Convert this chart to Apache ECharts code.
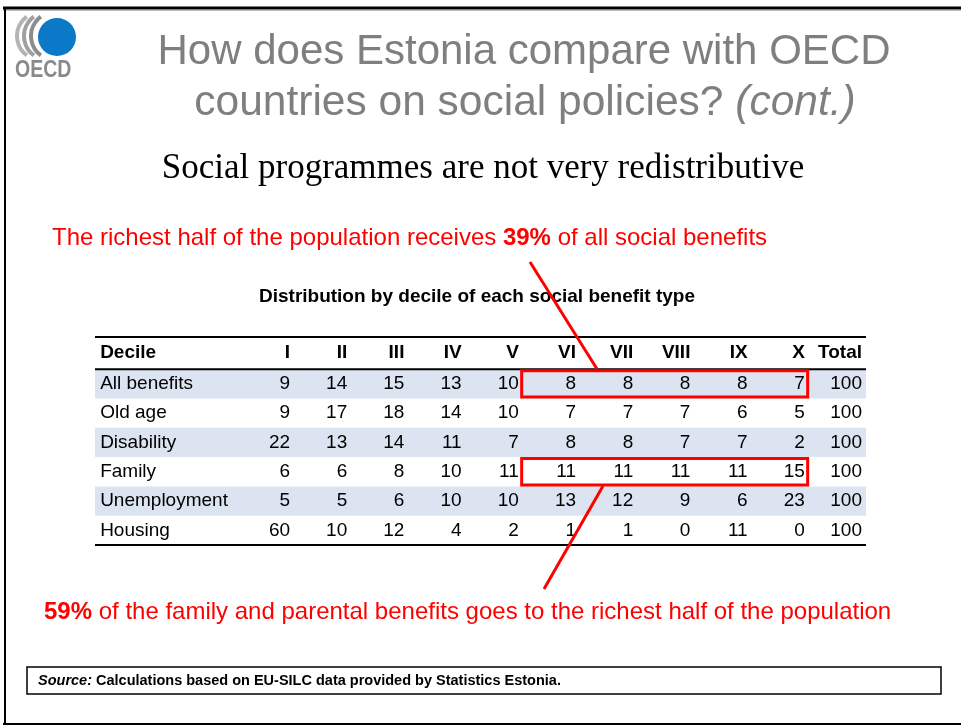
<!DOCTYPE html>
<html>
<head>
<meta charset="utf-8">
<title>Distribution by decile of each social benefit type</title>
<script src="https://cdn.jsdelivr.net/npm/echarts@6/dist/echarts.min.js"></script>
<style>
  html, body { margin: 0; padding: 0; background: #fff; }
  #chart { width: 961px; height: 726px; }
</style>
</head>
<body>
<div id="chart"></div>
<script>
// table data
const deciles = ['I', 'II', 'III', 'IV', 'V', 'VI', 'VII', 'VIII', 'IX', 'X', 'Total'];
const benefitTypes = ['All benefits', 'Old age', 'Disability', 'Family', 'Unemployment', 'Housing'];
const allBenefits = [9, 14, 15, 13, 10, 8, 8, 8, 8, 7, 100];
const oldAge = [9, 17, 18, 14, 10, 7, 7, 7, 6, 5, 100];
const disability = [22, 13, 14, 11, 7, 8, 8, 7, 7, 2, 100];
const family = [6, 6, 8, 10, 11, 11, 11, 11, 11, 15, 100];
const unemployment = [5, 5, 6, 10, 10, 13, 12, 9, 6, 23, 100];
const housing = [60, 10, 12, 4, 2, 1, 1, 0, 11, 0, 100];
const bandedRows = [0, 2, 4];
const highlightRows = [0, 3];   // rows boxed in red, deciles VI..X

const rows = [allBenefits, oldAge, disability, family, unemployment, housing];
const FONT = 'Liberation Sans, Arial, sans-serif';
const HEADER_Y = -1.05;
const colRight = i => i + 3.41;   // right edge of column i, in x axis units

// cells: [x, y, text, bold, align]
const cells = [[0.09, HEADER_Y, 'Decile', true, 'left']];
deciles.forEach((d, i) => cells.push([colRight(i), HEADER_Y, d, true, 'right']));
benefitTypes.forEach((name, r) => {
  cells.push([0.09, r, name, false, 'left']);
  rows[r].forEach((v, i) => cells.push([colRight(i), r, String(v), false, 'right']));
});

const myChart = echarts.init(document.getElementById('chart'));

const option = {
  animation: false,
  grid: { left: 95, right: 95, top: 337, bottom: 181 },
  xAxis: { type: 'value', min: 0, max: 13.48, show: false },
  yAxis: { type: 'value', min: -1.6, max: 5.5, inverse: true, show: false },
  series: [
    {
      // shaded rows
      type: 'custom',
      z: 1,
      data: bandedRows.map(r => [0, r]),
      renderItem: function (params, api) {
        const p = api.coord([0, api.value(1)]);
        const h = api.size([0, 1])[1];
        return {
          type: 'rect',
          shape: { x: params.coordSys.x, y: p[1] - h / 2, width: params.coordSys.width, height: h },
          style: { fill: '#dbe4f0' }
        };
      }
    },
    {
      // table rules: top, under header, bottom
      type: 'custom',
      z: 2,
      data: [[0, -1.6], [0, -0.5], [0, 5.5]],
      renderItem: function (params, api) {
        const p = api.coord([0, api.value(1)]);
        return {
          type: 'line',
          shape: { x1: params.coordSys.x, y1: p[1], x2: params.coordSys.x + params.coordSys.width, y2: p[1] },
          style: { stroke: '#000', lineWidth: 2 }
        };
      }
    },
    {
      // cell texts
      type: 'custom',
      z: 3,
      data: cells.map(c => [c[0], c[1]]),
      renderItem: function (params, api) {
        const c = cells[params.dataIndex];
        const p = api.coord([c[0], c[1]]);
        return {
          type: 'text',
          x: p[0],
          y: p[1],
          style: {
            text: c[2],
            fill: '#000',
            fontFamily: FONT,
            fontSize: 19,
            fontWeight: c[3] ? 'bold' : 'normal',
            align: c[4],
            verticalAlign: 'middle'
          }
        };
      }
    },
    {
      // red boxes round deciles VI..X
      type: 'custom',
      z: 4,
      data: highlightRows.map(r => [colRight(4) + 0.05, r, colRight(9) + 0.05]),
      renderItem: function (params, api) {
        const r = api.value(1);
        const a = api.coord([api.value(0), r - 0.5]);
        const b = api.coord([api.value(2), r + 0.5]);
        return {
          type: 'rect',
          shape: { x: a[0], y: a[1] + 1.5, width: b[0] - a[0], height: b[1] - a[1] - 3 },
          style: { fill: null, stroke: '#ff0000', lineWidth: 3 }
        };
      }
    }
  ],
  graphic: [
    // slide frame
    { type: 'line', shape: { x1: 3, y1: 8, x2: 961, y2: 8 }, style: { stroke: '#000', lineWidth: 3 } },
    { type: 'line', shape: { x1: 3, y1: 10.5, x2: 961, y2: 10.5 }, style: { stroke: '#bbb', lineWidth: 1 } },
    { type: 'line', shape: { x1: 5, y1: 7, x2: 5, y2: 725 }, style: { stroke: '#000', lineWidth: 2 } },
    { type: 'line', shape: { x1: 3, y1: 724, x2: 961, y2: 724 }, style: { stroke: '#000', lineWidth: 2 } },

    // OECD logo
    { type: 'arc', shape: { cx: 41, cy: 36, r: 24, startAngle: 2.2, endAngle: 4.08 }, style: { stroke: '#b4b4b4', lineWidth: 4, fill: null } },
    { type: 'arc', shape: { cx: 48, cy: 36, r: 24, startAngle: 2.2, endAngle: 4.08 }, style: { stroke: '#a0a0a0', lineWidth: 4, fill: null } },
    { type: 'arc', shape: { cx: 55, cy: 36, r: 24, startAngle: 2.2, endAngle: 4.08 }, style: { stroke: '#8c8c8c', lineWidth: 4, fill: null } },
    { type: 'circle', shape: { cx: 57, cy: 37, r: 19 }, style: { fill: '#0b78c8' } },
    {
      type: 'text', x: 15, y: 71, scaleX: 0.85,
      style: { text: 'OECD', fill: '#8a8a8a', fontFamily: FONT, fontSize: 23, fontWeight: 'bold', verticalAlign: 'middle' }
    },

    // slide title
    {
      type: 'text', x: 524, y: 52,
      style: { text: 'How does Estonia compare with OECD', fill: '#7f7f7f', fontFamily: FONT, fontSize: 42, align: 'center', verticalAlign: 'middle' }
    },
    {
      type: 'text', x: 525, y: 103,
      style: {
        text: '{n|countries on social policies? }{i|(cont.)}',
        align: 'center', verticalAlign: 'middle',
        rich: {
          n: { fill: '#7f7f7f', fontFamily: FONT, fontSize: 42.5 },
          i: { fill: '#7f7f7f', fontFamily: FONT, fontSize: 42.5, fontStyle: 'italic' }
        }
      }
    },
    {
      type: 'text', x: 483, y: 169,
      style: { text: 'Social programmes are not very redistributive', fill: '#000', fontFamily: 'Liberation Serif, Times New Roman, serif', fontSize: 35, align: 'center', verticalAlign: 'middle' }
    },

    // red annotations
    {
      type: 'text', x: 52, y: 238,
      style: {
        text: '{n|The richest half of the population receives }{b|39%}{n| of all social benefits}',
        verticalAlign: 'middle',
        rich: {
          n: { fill: '#ff0000', fontFamily: FONT, fontSize: 24 },
          b: { fill: '#ff0000', fontFamily: FONT, fontSize: 24, fontWeight: 'bold' }
        }
      }
    },
    {
      type: 'text', x: 44, y: 612,
      style: {
        text: '{b|59%}{n| of the family and parental benefits goes to the richest half of the population}',
        verticalAlign: 'middle',
        rich: {
          n: { fill: '#ff0000', fontFamily: FONT, fontSize: 24 },
          b: { fill: '#ff0000', fontFamily: FONT, fontSize: 24, fontWeight: 'bold' }
        }
      }
    },
    { type: 'line', z: 10, shape: { x1: 530, y1: 262, x2: 597, y2: 369 }, style: { stroke: '#ff0000', lineWidth: 3 } },
    { type: 'line', z: 10, shape: { x1: 603, y1: 486, x2: 544, y2: 589 }, style: { stroke: '#ff0000', lineWidth: 3 } },

    // table title
    {
      type: 'text', x: 477, y: 297,
      style: { text: 'Distribution by decile of each social benefit type', fill: '#000', fontFamily: FONT, fontSize: 19, fontWeight: 'bold', align: 'center', verticalAlign: 'middle' }
    },

    // source box
    { type: 'rect', shape: { x: 27, y: 667, width: 914, height: 27 }, style: { fill: null, stroke: '#000', lineWidth: 1.5 } },
    {
      type: 'text', x: 38, y: 681,
      style: {
        text: '{i|Source:}{n| Calculations based on EU-SILC data provided by Statistics Estonia.}',
        verticalAlign: 'middle',
        rich: {
          i: { fill: '#000', fontFamily: FONT, fontSize: 14.5, fontWeight: 'bold', fontStyle: 'italic' },
          n: { fill: '#000', fontFamily: FONT, fontSize: 14.5, fontWeight: 'bold' }
        }
      }
    }
  ]
};

myChart.setOption(option);
</script>
</body>
</html>
